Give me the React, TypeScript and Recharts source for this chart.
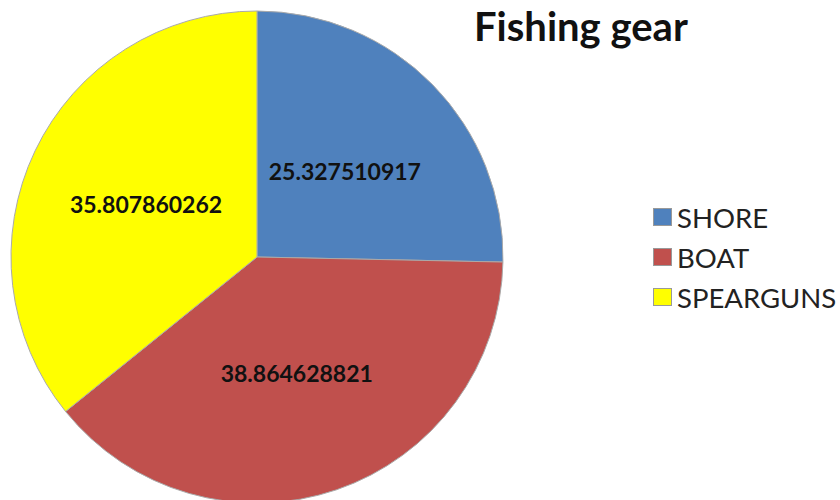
import React from "react";
import { PieChart, Pie, Cell } from "recharts";

const categories = ["SHORE", "BOAT", "SPEARGUNS"];
const values = [25.327510917, 38.864628821, 35.807860262];
const labels = ["25.327510917", "38.864628821", "35.807860262"];
const colors = ["#4F81BD", "#C0504D", "#FFFF00"];

const data = categories.map((name, i) => ({ name, value: values[i], label: labels[i] }));

const RADIAN = Math.PI / 180;

const renderLabel = (props: any) => {
  const { cx, cy, midAngle, outerRadius, index } = props;
  const r = outerRadius * 0.5;
  const x = cx + r * Math.cos(-midAngle * RADIAN);
  const y = cy + r * Math.sin(-midAngle * RADIAN);
  return (
    <text
      x={x}
      y={y}
      fill="#111"
      textAnchor="middle"
      dominantBaseline="central"
      style={{ fontFamily: "Lato, 'Open Sans', sans-serif", fontWeight: 700, fontSize: 23 }}
    >
      {labels[index]}
    </text>
  );
};

export default function App() {
  return (
    <div style={{ position: "absolute", left: 0, top: 0, width: 840, height: 500, background: "#fff" }}>
      <PieChart width={840} height={500} margin={{ top: 0, right: 0, bottom: 0, left: 0 }}>
        <Pie
          data={data}
          dataKey="value"
          nameKey="name"
          cx={257}
          cy={257}
          outerRadius={246}
          startAngle={90}
          endAngle={-270}
          stroke="#aaa"
          strokeWidth={1}
          label={renderLabel}
          labelLine={false}
          isAnimationActive={false}
        >
          {data.map((d, i) => (
            <Cell key={d.name} fill={colors[i]} />
          ))}
        </Pie>
      </PieChart>
      <div
        style={{
          position: "absolute",
          left: 474,
          top: 2,
          fontFamily: "Lato, 'Open Sans', sans-serif",
          fontWeight: 700,
          fontSize: 40,
          lineHeight: "48px",
          color: "#111",
          whiteSpace: "nowrap",
        }}
      >
        Fishing gear
      </div>
      <div
        style={{
          position: "absolute",
          left: 653,
          top: 197,
          fontFamily: "Lato, 'Open Sans', sans-serif",
          fontSize: 27.5,
          color: "#222",
        }}
      >
        {categories.map((c, i) => (
          <div key={c} style={{ display: "flex", alignItems: "center", height: 40 }}>
            <span
              style={{
                display: "inline-block",
                width: 19,
                height: 18,
                background: colors[i],
                border: "1px solid #999",
                boxSizing: "border-box",
                marginRight: 5,
              }}
            />
            <span>{c}</span>
          </div>
        ))}
      </div>
    </div>
  );
}
